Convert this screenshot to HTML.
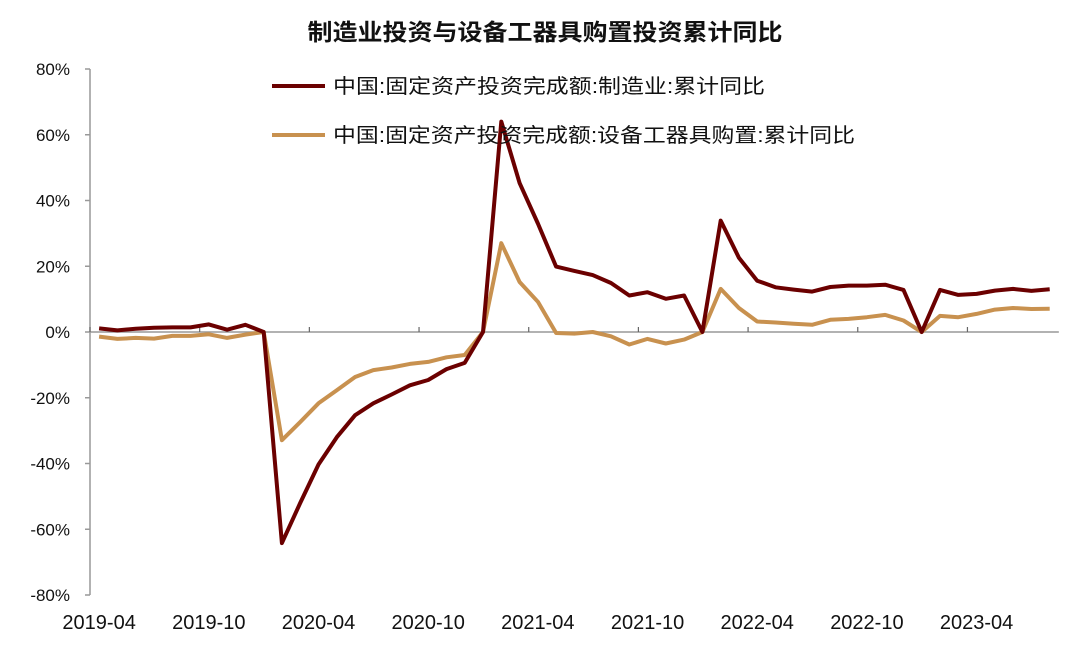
<!DOCTYPE html>
<html><head><meta charset="utf-8"><style>
body{margin:0;background:#fff;}
svg text{font-family:"Liberation Sans","Noto Sans CJK SC",sans-serif;}
</style></head><body>
<svg width="1080" height="648" viewBox="0 0 1080 648">
<text x="545" y="40" text-anchor="middle" font-size="23" font-weight="bold" fill="#111" textLength="475" lengthAdjust="spacingAndGlyphs">制造业投资与设备工器具购置投资累计同比</text>
<g id="axes"></g>
<g id="series"></g>
<g>
<line x1="272" y1="86" x2="325" y2="86" stroke="#6b0000" stroke-width="4"/>
<text x="333" y="93" font-size="20" fill="#111" textLength="432" lengthAdjust="spacingAndGlyphs">中国:固定资产投资完成额:制造业:累计同比</text>
<line x1="272" y1="135" x2="325" y2="135" stroke="#c8914f" stroke-width="4"/>
<text x="333" y="142" font-size="20" fill="#111" textLength="522" lengthAdjust="spacingAndGlyphs">中国:固定资产投资完成额:设备工器具购置:累计同比</text>
</g>
</svg>
<script>
const months=["2019-04","2019-05","2019-06","2019-07","2019-08","2019-09","2019-10","2019-11","2019-12","2020-01","2020-02","2020-03","2020-04","2020-05","2020-06","2020-07","2020-08","2020-09","2020-10","2020-11","2020-12","2021-01","2021-02","2021-03","2021-04","2021-05","2021-06","2021-07","2021-08","2021-09","2021-10","2021-11","2021-12","2022-01","2022-02","2022-03","2022-04","2022-05","2022-06","2022-07","2022-08","2022-09","2022-10","2022-11","2022-12","2023-01","2023-02","2023-03","2023-04","2023-05","2023-06","2023-07","2023-08"];
const manufacturing=[1.1,0.5,1.0,1.3,1.4,1.4,2.3,0.7,2.2,0,-64.2,-52,-40.3,-32,-25.3,-21.7,-19,-16.2,-14.6,-11.3,-9.4,0,64,45.3,33,19.9,18.6,17.3,14.9,11.1,12.1,10.1,11.1,0,33.9,22.6,15.6,13.6,12.9,12.3,13.7,14.1,14.1,14.4,12.8,0,12.8,11.3,11.6,12.6,13.1,12.5,13.0];
const equipment=[-1.4,-2.1,-1.8,-2.0,-1.2,-1.2,-0.7,-1.8,-0.8,0,-32.9,-27.4,-21.7,-17.7,-13.7,-11.6,-10.8,-9.7,-9.1,-7.7,-7.0,0,27,15.2,9.2,-0.3,-0.5,0,-1.3,-3.8,-2.1,-3.5,-2.3,0,13.1,7.3,3.2,2.9,2.5,2.2,3.7,4.0,4.5,5.2,3.5,0,4.9,4.5,5.5,6.8,7.3,7.0,7.1];
const yTicks=[80,60,40,20,0,-20,-40,-60,-80];
const xLabelIdx=[0,6,12,18,24,30,36,42,48];
const NS="http://www.w3.org/2000/svg";
const X0=90,STEP=18.28,Y0=332,YS=3.2875;
const xs=i=>X0+STEP*(i+0.5);
const ys=v=>Y0-v*YS;
const axes=document.getElementById('axes'),ser=document.getElementById('series');
function mk(tag,attrs,parent){const e=document.createElementNS(NS,tag);for(const k in attrs)e.setAttribute(k,attrs[k]);parent.appendChild(e);return e;}
const ya=mk('line',{x1:X0,y1:ys(80),x2:X0,y2:ys(-80),stroke:'#999','stroke-width':1.5},axes);


yTicks.forEach(v=>{
 const t=mk('line',{x1:X0-5,y1:ys(v),x2:X0,y2:ys(v),stroke:'#999','stroke-width':1.5},axes);
 
 
 const l=mk('text',{x:70,y:ys(v)+6,'text-anchor':'end','font-size':17,fill:'#111'},axes);
 l.textContent=v+'%';
 
 
});
const xa=mk('line',{x1:X0,y1:Y0,x2:X0+STEP*months.length,y2:Y0,stroke:'#999','stroke-width':1.5},axes);


xLabelIdx.forEach(i=>{
 const tx=X0+STEP*i;
 const t=mk('line',{x1:tx,y1:Y0-5,x2:tx,y2:Y0,stroke:'#666','stroke-width':1.2},axes);
 
 
 const l=mk('text',{x:xs(i),y:629,'text-anchor':'middle','font-size':20,fill:'#111'},axes);
 l.textContent=months[i];
 
 
});
function line(data,color,name){
 const d=data.map((v,i)=>(i?'L':'M')+xs(i).toFixed(1)+','+ys(v).toFixed(1)).join(' ');
 const p=mk('path',{d:d,fill:'none',stroke:color,'stroke-width':4,'stroke-linejoin':'round'},ser);
 
 
}
line(equipment,'#c8914f','equipment-line');
line(manufacturing,'#6b0000','manufacturing-line');
</script>
</body></html>
